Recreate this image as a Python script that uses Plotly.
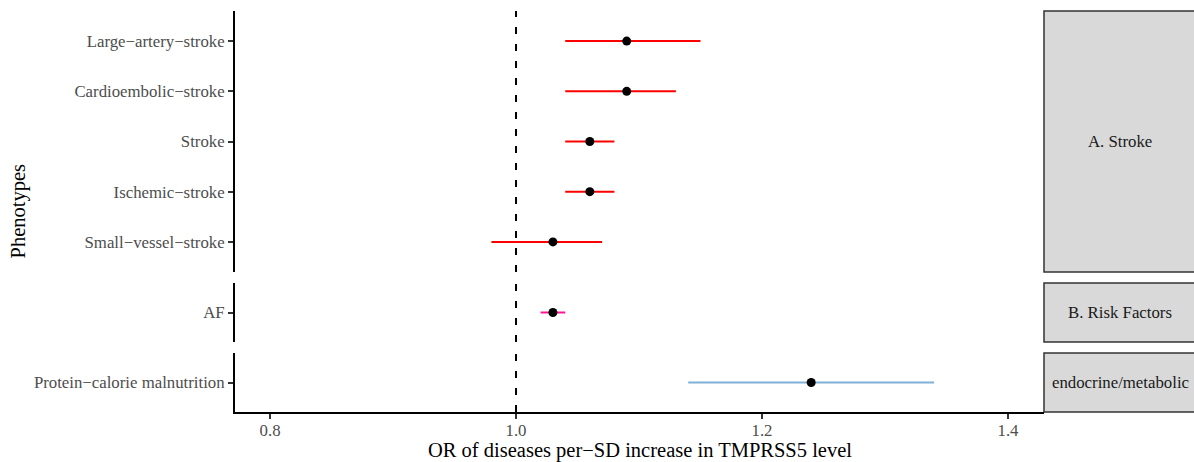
import plotly.graph_objects as go

# ---- data ----
stroke_labels = ["Large\u2212artery\u2212stroke", "Cardioembolic\u2212stroke", "Stroke",
                 "Ischemic\u2212stroke", "Small\u2212vessel\u2212stroke"]
stroke_or = [1.09, 1.09, 1.06, 1.06, 1.03]
stroke_lo = [1.04, 1.04, 1.04, 1.04, 0.98]
stroke_hi = [1.15, 1.13, 1.08, 1.08, 1.07]

risk_labels = ["AF"]
risk_or = [1.03]
risk_lo = [1.02]
risk_hi = [1.04]

endo_labels = ["Protein\u2212calorie malnutrition"]
endo_or = [1.24]
endo_lo = [1.14]
endo_hi = [1.34]

facet_names = ["A. Stroke", "B. Risk Factors", "endocrine/metabolic"]
facet_colors = ["#FF0000", "#FF1493", "#7FB0D8"]
x_ticks = [0.8, 1.0, 1.2, 1.4]
x_tick_text = ["0.8", "1.0", "1.2", "1.4"]
x_title = "OR of diseases per\u2212SD increase in TMPRSS5 level"
y_title = "Phenotypes"

groups = [
    (stroke_labels, stroke_or, stroke_lo, stroke_hi),
    (risk_labels, risk_or, risk_lo, risk_hi),
    (endo_labels, endo_or, endo_lo, endo_hi),
]

# ---- layout geometry (pixels) ----
W, H = 1194, 462
L, R, T, B = 235, 1044, 11, 412
pw, ph = R - L, B - T
panel_px = [(11, 272), (283, 342), (353, 412)]  # top, bottom pixel of each panel

def ydom(top, bot):
    return [(B - bot) / ph, (B - top) / ph]

FONT = "Liberation Serif, Times New Roman, serif"
TICK_SIZE = 16.8
TITLE_SIZE = 20.5
fig = go.Figure()

for i, (labels, orv, lo, hi) in enumerate(groups):
    n = len(labels)
    ypos = list(range(n, 0, -1))
    yname = "y" if i == 0 else f"y{i+1}"
    xname = "x" if i == 0 else f"x{i+1}"
    fig.add_trace(go.Scatter(
        x=orv, y=ypos, mode="markers",
        marker=dict(color="black", size=9),
        error_x=dict(type="data", symmetric=False,
                     array=[h - o for h, o in zip(hi, orv)],
                     arrayminus=[o - l for o, l in zip(orv, lo)],
                     color=facet_colors[i], thickness=2, width=0),
        xaxis=xname, yaxis=yname, showlegend=False, hoverinfo="x+y"))
    # dashed reference line at OR = 1
    fig.add_shape(type="line", xref=xname, yref=f"{yname} domain",
                  x0=1.0, x1=1.0, y0=0, y1=1,
                  line=dict(color="black", width=2, dash="7px,10px"))
    top, bot = panel_px[i]
    dom = ydom(top, bot)
    yax = dict(domain=dom, range=[0.4, n + 0.6], tickmode="array",
               tickvals=ypos, ticktext=labels, showline=True, linecolor="black",
               linewidth=2, ticks="outside", ticklen=5, tickwidth=2, tickcolor="#333333",
               showgrid=False, zeroline=False,
               tickfont=dict(family=FONT, size=TICK_SIZE, color="#4D4D4D"),
               anchor=xname, fixedrange=True)
    xax = dict(domain=[0, 1], range=[0.7715, 1.4293], showgrid=False, zeroline=False,
               anchor=yname, fixedrange=True)
    if i == 2:
        xax.update(showline=True, linecolor="black", linewidth=2, ticks="outside",
                   ticklen=5, tickwidth=2, tickcolor="#333333",
                   tickvals=x_ticks, ticktext=x_tick_text, ticklabelstandoff=-3,
                   tickfont=dict(family=FONT, size=TICK_SIZE, color="#4D4D4D"))
    else:
        xax.update(showticklabels=False, matches="x3")
    fig.layout[("yaxis" if i == 0 else f"yaxis{i+1}")] = yax
    fig.layout[("xaxis" if i == 0 else f"xaxis{i+1}")] = xax

    # facet strip
    fig.add_shape(type="rect", xref="paper", yref="paper",
                  x0=1.0, x1=(1198 - L) / pw, y0=dom[0], y1=dom[1],
                  fillcolor="#D9D9D9", line=dict(color="#333333", width=1.5), layer="below")
    fig.add_annotation(xref="paper", yref="paper", x=(1120 - L) / pw,
                       y=(dom[0] + dom[1]) / 2, text=facet_names[i], showarrow=False,
                       xanchor="center", yanchor="middle",
                       font=dict(family=FONT, size=TICK_SIZE, color="#1A1A1A"))

fig.add_annotation(xref="paper", yref="paper", x=(18 - L) / pw, y=0.5,
                   text=y_title, textangle=-90, showarrow=False,
                   xanchor="center", yanchor="middle",
                   font=dict(family=FONT, size=TITLE_SIZE, color="black"))
fig.add_annotation(xref="paper", yref="paper", x=0.5, y=(B - 450) / ph,
                   text=x_title, showarrow=False,
                   xanchor="center", yanchor="middle",
                   font=dict(family=FONT, size=TITLE_SIZE, color="black"))

fig.update_layout(width=W, height=H, margin=dict(l=L, r=W - R, t=T, b=H - B, autoexpand=False),
                  plot_bgcolor="white", paper_bgcolor="white")

fig.write_html("out.html", config={"displayModeBar": False},
               post_script="document.body.style.margin='0px';document.body.style.overflow='hidden';")
